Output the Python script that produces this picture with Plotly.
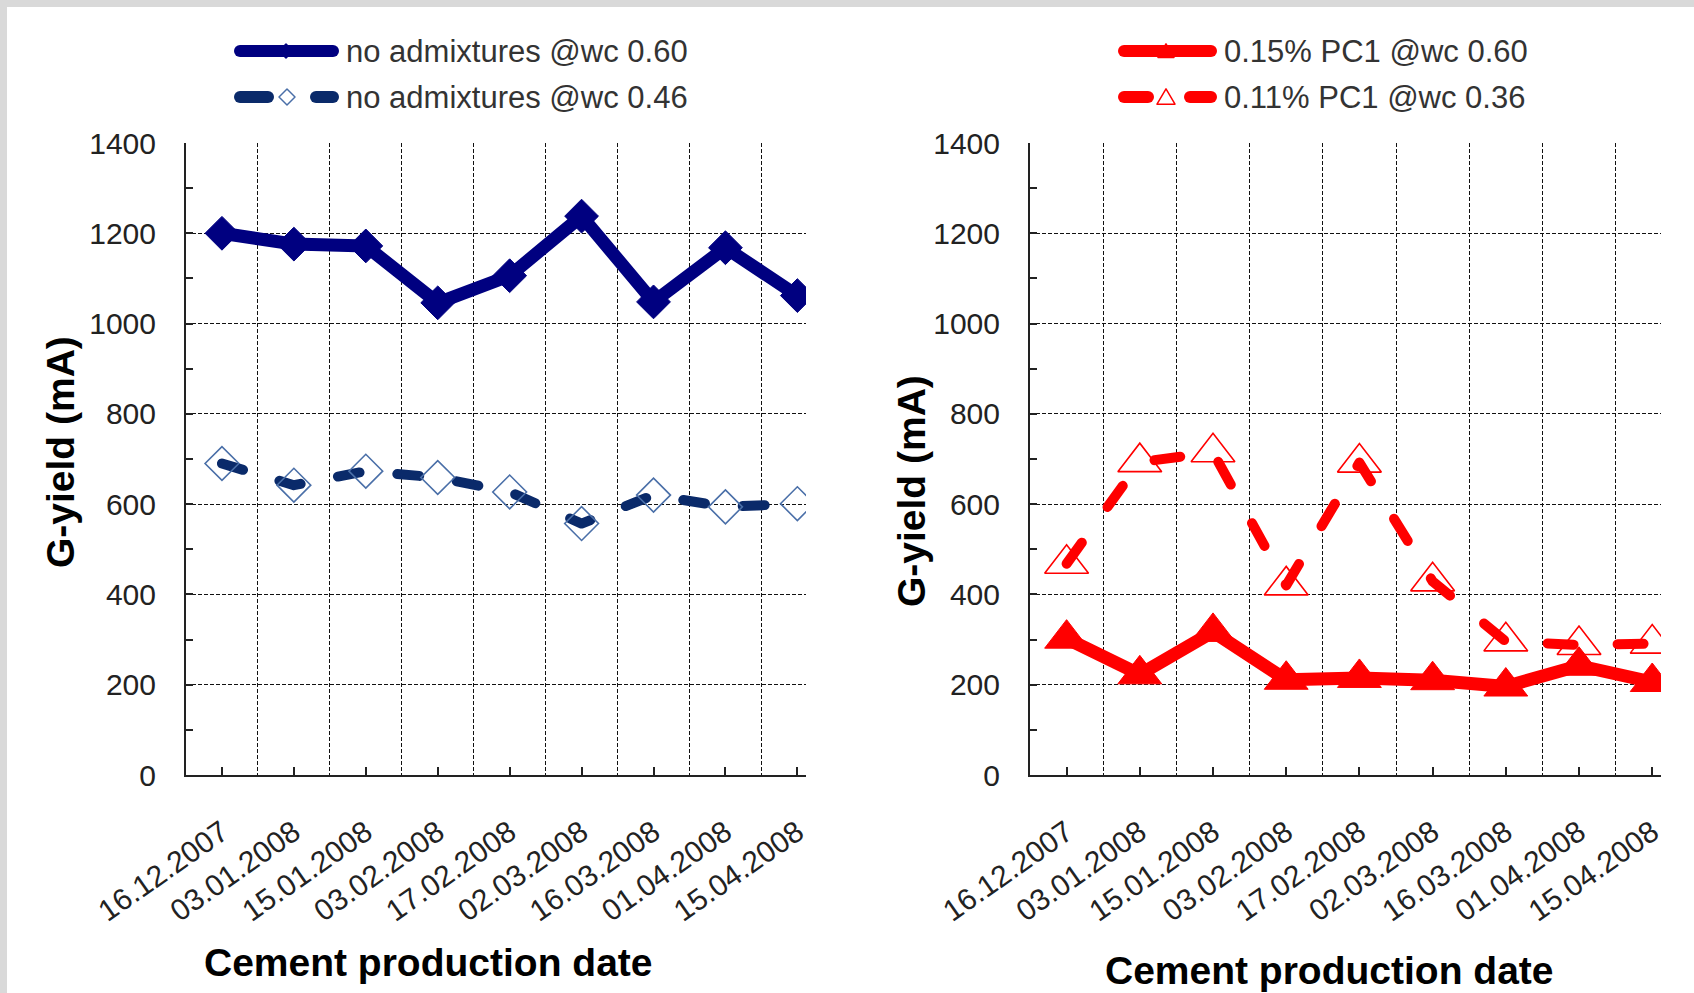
import plotly.graph_objects as go

# Cement production dates (x categories)
dates = ["16.12.2007", "03.01.2008", "15.01.2008", "03.02.2008", "17.02.2008",
         "02.03.2008", "16.03.2008", "01.04.2008", "15.04.2008"]

# G-yield (mA) series
no_adm_060 = [1200, 1176, 1172, 1046, 1106, 1238, 1048, 1168, 1062]
no_adm_046 = [690, 642, 673, 659, 627, 557, 620, 594, 601]
pc1_015_060 = [302, 223, 317, 211, 215, 210, 196, 242, 206]
pc1_011_036 = [468, 693, 715, 420, 692, 429, 296, 288, 291]

y_ticks = list(range(0, 1401, 200))

W, H = 1694, 993
FONT = "Liberation Sans, Arial, sans-serif"
NAVY = "#000080"
NAVY_DK = "#0a2a6a"
OPEN_BLUE = "#4a6fa8"
RED = "#ff0000"


def px(x):
    return x / W


def py(y):
    return 1 - y / H


xi = list(range(len(dates)))

fig = go.Figure()

fig.add_trace(go.Scatter(
    x=xi, y=no_adm_060, mode="lines+markers", name="no admixtures @wc 0.60",
    line=dict(color=NAVY, width=13),
    marker=dict(symbol="diamond", size=26, color=NAVY, line=dict(color=NAVY, width=1)),
    xaxis="x", yaxis="y", showlegend=False))
fig.add_trace(go.Scatter(
    x=xi, y=no_adm_046, mode="lines+markers", name="no admixtures @wc 0.46",
    line=dict(color=NAVY_DK, width=10, dash="22px,38px"),
    marker=dict(symbol="diamond-open", size=26, color=OPEN_BLUE, line=dict(color=OPEN_BLUE, width=1.6)),
    xaxis="x", yaxis="y", showlegend=False))
fig.add_trace(go.Scatter(
    x=xi, y=pc1_015_060, mode="lines+markers", name="0.15% PC1 @wc 0.60",
    line=dict(color=RED, width=13),
    marker=dict(symbol="triangle-up", size=38, color=RED, line=dict(color=RED, width=1)),
    xaxis="x2", yaxis="y2", showlegend=False))
fig.add_trace(go.Scatter(
    x=xi, y=pc1_011_036, mode="lines+markers", name="0.11% PC1 @wc 0.36",
    line=dict(color=RED, width=10, dash="26px,44px"),
    marker=dict(symbol="triangle-up-open", size=38, color=RED, line=dict(color=RED, width=1.6)),
    xaxis="x2", yaxis="y2", showlegend=False))


def xaxis_cfg(x0, x1, anchor):
    return dict(
        domain=[px(x0), px(x1)], range=[-0.5, 8.12], anchor=anchor, automargin=False,
        tickmode="array", tickvals=xi, ticktext=dates, tickangle=-35,
        tickfont=dict(family=FONT, size=30, color="#222"),
        ticks="inside", ticklen=8, tickwidth=1.5, tickcolor="#222",
        ticklabelstandoff=26,
        showgrid=False, zeroline=False,
        showline=True, linecolor="#222", linewidth=2,
        minor=dict(tick0=0.5, dtick=1, showgrid=True, gridcolor="#111",
                   gridwidth=1, griddash="4px,2px", ticks=""),
        fixedrange=True)


def yaxis_cfg(anchor):
    return dict(
        domain=[py(775), py(143)], range=[0, 1400], anchor=anchor, automargin=False,
        tickmode="array", tickvals=y_ticks,
        tickfont=dict(family=FONT, size=30, color="#222"),
        ticks="inside", ticklen=7, tickwidth=1.5, tickcolor="#222",
        ticklabelstandoff=22,
        showgrid=True, gridcolor="#111", gridwidth=1, griddash="4px,2px",
        minor=dict(tick0=100, dtick=200, ticks="inside", ticklen=7, tickcolor="#222", showgrid=False),
        zeroline=False, showline=True, linecolor="#222", linewidth=2,
        fixedrange=True)


shapes = [
    # light grey frame along the top and left edges
    dict(type="rect", xref="paper", yref="paper", x0=0, x1=1, y0=py(7), y1=1,
         fillcolor="#d9d9d9", line=dict(width=0), layer="below"),
    dict(type="rect", xref="paper", yref="paper", x0=0, x1=px(7), y0=0, y1=1,
         fillcolor="#d9d9d9", line=dict(width=0), layer="below"),
]

annotations = []


def legend_line(x0, x1, y, color, width):
    shapes.append(dict(type="line", xref="paper", yref="paper",
                       x0=px(x0), x1=px(x1), y0=py(y), y1=py(y),
                       line=dict(color=color, width=width)))


def diamond(cx, cy, r, color, fill):
    path = (f"M {px(cx - r)} {py(cy)} L {px(cx)} {py(cy - r)} "
            f"L {px(cx + r)} {py(cy)} L {px(cx)} {py(cy + r)} Z")
    shapes.append(dict(type="path", xref="paper", yref="paper", path=path,
                       fillcolor=fill, line=dict(color=color, width=1.5)))


def triangle(cx, cy, r, color, fill):
    path = (f"M {px(cx - r)} {py(cy + r * 0.8)} L {px(cx)} {py(cy - r * 0.9)} "
            f"L {px(cx + r)} {py(cy + r * 0.8)} Z")
    shapes.append(dict(type="path", xref="paper", yref="paper", path=path,
                       fillcolor=fill, line=dict(color=color, width=1.5)))


def legend_text(x, y, text):
    annotations.append(dict(xref="paper", yref="paper", x=px(x), y=py(y),
                            xanchor="left", yanchor="middle", showarrow=False,
                            text=text, font=dict(family=FONT, size=31, color="#333")))


# Legend, left panel
legend_line(240, 333, 51, NAVY, 12)
diamond(286, 51, 7, NAVY, NAVY)
legend_text(344, 51, "no admixtures @wc 0.60")
legend_line(240, 268, 97, NAVY_DK, 12)
legend_line(316, 333, 97, NAVY_DK, 12)
diamond(287, 97, 8, OPEN_BLUE, "white")
legend_text(344, 97, "no admixtures @wc 0.46")

# Legend, right panel
legend_line(1124, 1211, 51, RED, 12)
triangle(1166, 51, 8, RED, RED)
legend_text(1222, 51, "0.15% PC1 @wc 0.60")
legend_line(1124, 1148, 97, RED, 12)
legend_line(1190, 1211, 97, RED, 12)
triangle(1166, 97, 9, RED, "white")
legend_text(1222, 97, "0.11% PC1 @wc 0.36")

# Axis titles
title_font = dict(family=FONT, size=39, color="#000")
annotations += [
    dict(xref="paper", yref="paper", x=px(428), y=py(962), text="<b>Cement production date</b>",
         showarrow=False, xanchor="center", yanchor="middle", font=title_font),
    dict(xref="paper", yref="paper", x=px(1329), y=py(970), text="<b>Cement production date</b>",
         showarrow=False, xanchor="center", yanchor="middle", font=title_font),
    dict(xref="paper", yref="paper", x=px(60), y=py(452), text="<b>G-yield (mA)</b>",
         showarrow=False, xanchor="center", yanchor="middle", textangle=-90, font=title_font),
    dict(xref="paper", yref="paper", x=px(911), y=py(491), text="<b>G-yield (mA)</b>",
         showarrow=False, xanchor="center", yanchor="middle", textangle=-90, font=title_font),
]

fig.update_layout(
    template="none",
    width=W, height=H, margin=dict(l=0, r=0, t=0, b=0, pad=0, autoexpand=False),
    paper_bgcolor="white", plot_bgcolor="white",
    xaxis=xaxis_cfg(186, 806, "y"), yaxis=yaxis_cfg("x"),
    xaxis2=xaxis_cfg(1030, 1661, "y2"), yaxis2=yaxis_cfg("x2"),
    shapes=shapes, annotations=annotations,
    showlegend=False,
)

# rounded line ends and joins for the data lines and legend samples
post = ("document.querySelectorAll('.scatterlayer .js-line, .shapelayer path').forEach(function(p){"
        "p.style.strokeLinecap='round';p.style.strokeLinejoin='round';});")
fig.write_html("out.html", post_script=post, config={"displayModeBar": False})
